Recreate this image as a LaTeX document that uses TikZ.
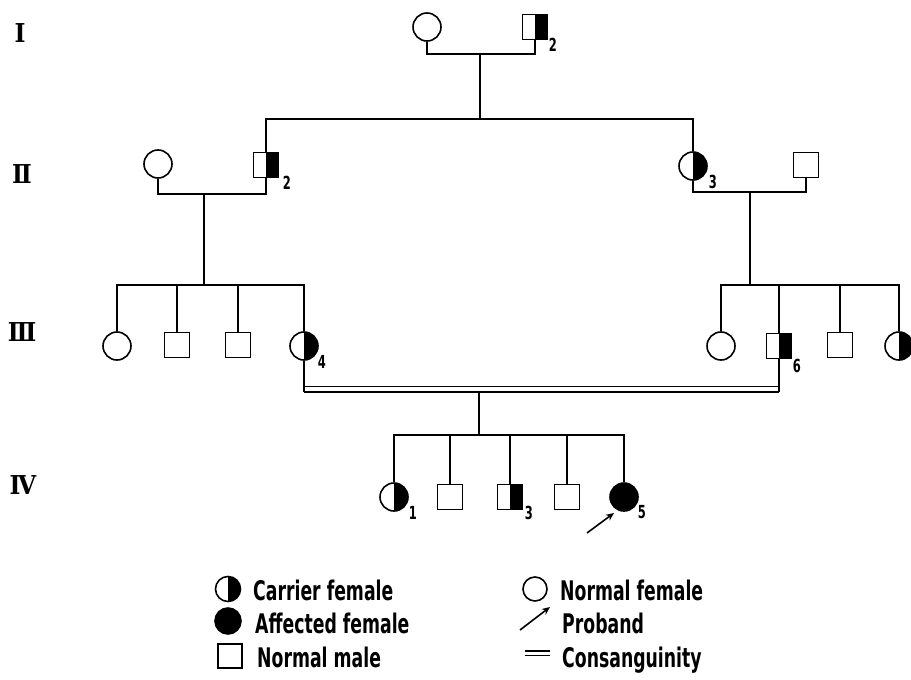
\documentclass[tikz,border=0pt]{standalone}
\usepackage{fontspec}
\usetikzlibrary{arrows.meta}
\newfontfamily\lblfont{DejaVu Sans}[FakeStretch=0.64]
\newfontfamily\genfont{DejaVu Serif}[FakeStretch=0.9]
\tikzset{
 ln/.style={line width=1.6pt},
 fem/.style={circle, draw, line width=1.6pt, minimum size=28pt, inner sep=0pt},
 mal/.style={rectangle, draw, line width=1.6pt, minimum size=25pt, inner sep=0pt},
 halfblack/.style={path picture={\fill[black] (path picture bounding box.north) rectangle (path picture bounding box.south east);}},
 carf/.style={fem, halfblack},
 carm/.style={mal, halfblack},
 aff/.style={fem, fill=black},
 num/.style={font=\lblfont\bfseries\fontsize{18}{18}\selectfont, inner sep=0pt},
 gen/.style={font=\genfont\bfseries\fontsize{26}{26}\selectfont, inner sep=0pt},
 leg/.style={font=\lblfont\bfseries\fontsize{27}{27}\selectfont, inner sep=0pt, anchor=base west},
 cons/.style={double, double distance=4pt, line width=1.5pt},
}
\begin{document}
\begin{tikzpicture}[x=1pt,y=-1pt]
\useasboundingbox[fill=white] (0,0) rectangle (911,680);
% generation labels
\node[gen] (g1) at (20,33) {Ⅰ};
\node[gen] (g2) at (22,174) {Ⅱ};
\node[gen] (g3) at (22,332) {Ⅲ};
\node[gen] (g4) at (23,485) {Ⅳ};
% generation I
\node[fem] (I1) at (427,27) {};
\node[carm] (I2) at (535,27) {};
\node[num] (n12) at (553,45) {2};
% generation II
\node[fem] (II1) at (158,164) {};
\node[carm] (II2) at (266,165) {};
\node[num] (n22) at (287,183) {2};
\node[carf] (II3) at (693,166) {};
\node[num] (n23) at (713,182) {3};
\node[mal] (II4) at (806,165) {};
% generation III
\node[fem] (III1) at (117,346) {};
\node[mal] (III2) at (177,345) {};
\node[mal] (III3) at (238,345) {};
\node[carf] (III4) at (304,346) {};
\node[num] (n34) at (322,362) {4};
\node[fem] (III5) at (721,346) {};
\node[carm] (III6) at (779,346) {};
\node[num] (n36) at (797,366) {6};
\node[mal] (III7) at (840,345) {};
\node[carf] (III8) at (899,346) {};
% generation IV
\node[carf] (IV1) at (394,497) {};
\node[num] (n41) at (413,513) {1};
\node[mal] (IV2) at (450,497) {};
\node[carm] (IV3) at (510,497) {};
\node[num] (n43) at (529,513) {3};
\node[mal] (IV4) at (567,497) {};
\node[aff] (IV5) at (624,497) {};
\node[num] (n45) at (642,512) {5};
% connectors I
\coordinate (m1) at (480,54);
\coordinate (s1) at (480,119);
\draw[ln] (I1.south) |- (m1) -| (I2.south);
\draw[ln] (m1) -- (s1);
\draw[ln] (II2.north) |- (s1) -| (II3.north);
% connectors II left
\coordinate (m2l) at (204,194);
\coordinate (s2l) at (204,285);
\draw[ln] (II1.south) |- (m2l) -| (II2.south);
\draw[ln] (m2l) -- (s2l);
\draw[ln] (III1.north) |- (s2l) -| (III4.north);
\draw[ln] (III2.north) -- (III2.north |- s2l);
\draw[ln] (III3.north) -- (III3.north |- s2l);
% connectors II right
\coordinate (m2r) at (750,192);
\coordinate (s2r) at (750,285);
\draw[ln] (II3.south) |- (m2r) -| (II4.south);
\draw[ln] (m2r) -- (s2r);
\draw[ln] (III5.north) |- (s2r) -| (III8.north);
\draw[ln] (III6.north) -- (III6.north |- s2r);
\draw[ln] (III7.north) -- (III7.north |- s2r);
% consanguinity
\coordinate (cl) at (304,389);
\coordinate (cr) at (779,389);
\coordinate (clb) at (304,392);
\coordinate (crb) at (779,392);
\coordinate (cm) at (479,392);
\coordinate (s4) at (479,435);
\draw[cons] (cl) -- (cr);
\draw[ln] (III4.south) -- (clb);
\draw[ln] (III6.south) -- (crb);
\draw[ln] (cm) -- (s4);
% connectors IV
\draw[ln] (IV1.north) |- (s4) -| (IV5.north);
\draw[ln] (IV2.north) -- (IV2.north |- s4);
\draw[ln] (IV3.north) -- (IV3.north |- s4);
\draw[ln] (IV4.north) -- (IV4.north |- s4);
% proband arrow
\coordinate (pt) at (587,533);
\coordinate (ph) at (614,513);
\draw[ln, -{Stealth[length=8pt,width=7pt]}] (pt) -- (ph);
% legend
\node[carf, minimum size=25pt] (L1) at (228,589) {};
\node[aff, minimum size=26pt] (L2) at (228,621) {};
\node[mal, minimum size=24pt] (L3) at (230,656) {};
\node[leg] (T1) at (253,600) {Carrier female};
\node[leg] (T2) at (255,633) {Affected female};
\node[leg] (T3) at (257,667) {Normal male};
\node[fem, minimum size=24pt] (L4) at (535,589) {};
\node[leg] (T4) at (560,600) {Normal female};
\coordinate (a1) at (520,630);
\coordinate (a2) at (550,607);
\draw[ln, -{Stealth[length=8pt,width=7pt]}] (a1) -- (a2);
\node[leg] (T5) at (562,633) {Proband};
\coordinate (e1) at (525,653);
\coordinate (e2) at (550,653);
\draw[double, double distance=3pt, line width=1.4pt] (e1) -- (e2);
\node[leg] (T6) at (562,667) {Consanguinity};
\end{tikzpicture}
\end{document}
